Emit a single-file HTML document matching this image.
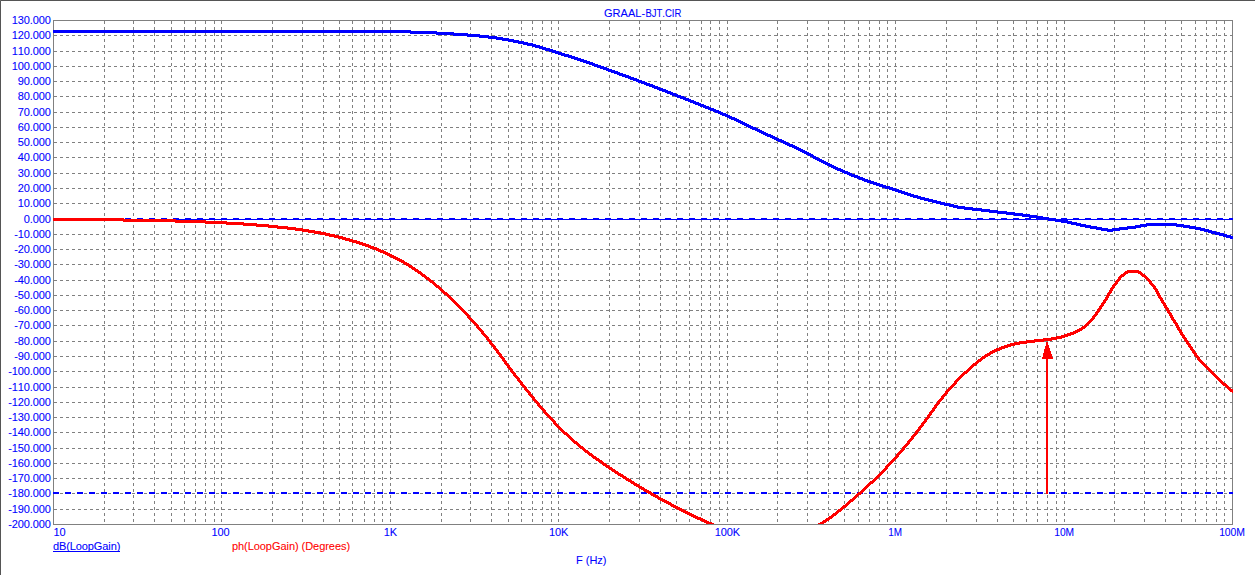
<!DOCTYPE html>
<html><head><meta charset="utf-8"><title>GRAAL-BJT.CIR</title>
<style>
html,body{margin:0;padding:0;background:#fff;}
body{width:1255px;height:575px;overflow:hidden;position:relative;font-family:"Liberation Sans",sans-serif;}
svg{position:absolute;left:0;top:0;display:block;}
text{font-family:"Liberation Sans",sans-serif;font-size:11px;font-kerning:none;}
.n{letter-spacing:-0.11px;}
</style></head><body>
<svg width="1255" height="575" viewBox="0 0 1255 575">
<rect x="0" y="0" width="1255" height="575" fill="#ffffff"/>
<g shape-rendering="crispEdges">
<rect x="0" y="0" width="1255" height="1" fill="#555555"/>
<rect x="0" y="0" width="1" height="575" fill="#555555"/>
<rect x="0" y="0" width="1" height="1" fill="#6a6a6a"/>
</g>
<g shape-rendering="crispEdges" stroke="#808080" stroke-width="1" stroke-dasharray="3 3" fill="none">
<path d="M54 35.5 H1232 M54 51.5 H1232 M54 66.5 H1232 M54 81.5 H1232 M54 96.5 H1232 M54 112.5 H1232 M54 127.5 H1232 M54 142.5 H1232 M54 157.5 H1232 M54 173.5 H1232 M54 188.5 H1232 M54 203.5 H1232 M54 219.5 H1232 M54 234.5 H1232 M54 249.5 H1232 M54 264.5 H1232 M54 280.5 H1232 M54 295.5 H1232 M54 310.5 H1232 M54 325.5 H1232 M54 341.5 H1232 M54 356.5 H1232 M54 371.5 H1232 M54 387.5 H1232 M54 402.5 H1232 M54 417.5 H1232 M54 432.5 H1232 M54 448.5 H1232 M54 463.5 H1232 M54 478.5 H1232 M54 493.5 H1232 M54 509.5 H1232"/>
<path d="M104.5 21 V524 M133.5 21 V524 M154.5 21 V524 M171.5 21 V524 M184.5 21 V524 M195.5 21 V524 M205.5 21 V524 M214.5 21 V524 M221.5 21 V524 M272.5 21 V524 M302.5 21 V524 M323.5 21 V524 M339.5 21 V524 M352.5 21 V524 M364.5 21 V524 M374.5 21 V524 M382.5 21 V524 M390.5 21 V524 M441.5 21 V524 M470.5 21 V524 M491.5 21 V524 M508.5 21 V524 M521.5 21 V524 M532.5 21 V524 M542.5 21 V524 M551.5 21 V524 M558.5 21 V524 M609.5 21 V524 M639.5 21 V524 M660.5 21 V524 M676.5 21 V524 M689.5 21 V524 M701.5 21 V524 M710.5 21 V524 M719.5 21 V524 M727.5 21 V524 M777.5 21 V524 M807.5 21 V524 M828.5 21 V524 M844.5 21 V524 M858.5 21 V524 M869.5 21 V524 M879.5 21 V524 M887.5 21 V524 M895.5 21 V524 M946.5 21 V524 M976.5 21 V524 M997.5 21 V524 M1013.5 21 V524 M1026.5 21 V524 M1037.5 21 V524 M1047.5 21 V524 M1056.5 21 V524 M1064.5 21 V524 M1114.5 21 V524 M1144.5 21 V524 M1165.5 21 V524 M1181.5 21 V524 M1195.5 21 V524 M1206.5 21 V524 M1216.5 21 V524 M1224.5 21 V524"/>
</g>
<g shape-rendering="crispEdges" fill="#808080">
<rect x="53" y="20" width="1180" height="1"/>
<rect x="53" y="524" width="1180" height="1"/>
<rect x="53" y="20" width="1" height="505"/>
<rect x="1232" y="20" width="1" height="505"/>
</g>
<g shape-rendering="crispEdges" stroke="#0000ff" fill="none">
<path d="M53 219.5 H1233" stroke-width="1"/>
<path d="M53 219 H1233" stroke-width="2" stroke-dasharray="6 6"/>
<path d="M53 493 H1233" stroke-width="2" stroke-dasharray="6 6"/>
</g>
<g shape-rendering="crispEdges" fill="none" stroke-width="1">
<path stroke="#0000ff" d="M53 30.5h358M53 31.5h384M53 32.5h401M410 33.5h58M436 34.5h44M453 35.5h36M467 36.5h30M479 37.5h24M488 38.5h21M496 39.5h18M502 40.5h17M508 41.5h16M513 42.5h15M518 43.5h15M523 44.5h13M527 45.5h13M532 46.5h11M535 47.5h11M539 48.5h11M542 49.5h11M545 50.5h11M549 51.5h10M552 52.5h10M555 53.5h10M558 54.5h11M561 55.5h11M564 56.5h11M568 57.5h10M571 58.5h10M574 59.5h10M577 60.5h10M580 61.5h10M583 62.5h10M586 63.5h9M589 64.5h9M592 65.5h9M594 66.5h10M597 67.5h10M600 68.5h9M603 69.5h9M606 70.5h9M608 71.5h10M611 72.5h9M614 73.5h9M617 74.5h9M619 75.5h10M622 76.5h9M625 77.5h9M628 78.5h9M630 79.5h9M633 80.5h9M636 81.5h9M638 82.5h9M641 83.5h9M644 84.5h9M646 85.5h9M649 86.5h9M652 87.5h8M654 88.5h9M657 89.5h9M659 90.5h9M662 91.5h9M665 92.5h8M667 93.5h9M670 94.5h8M672 95.5h9M675 96.5h9M677 97.5h9M680 98.5h9M683 99.5h8M685 100.5h9M688 101.5h8M690 102.5h9M693 103.5h8M695 104.5h9M698 105.5h8M700 106.5h9M703 107.5h8M705 108.5h9M708 109.5h8M710 110.5h9M713 111.5h8M715 112.5h8M718 113.5h8M720 114.5h8M722 115.5h8M725 116.5h7M727 117.5h8M729 118.5h8M731 119.5h8M734 120.5h7M736 121.5h7M738 122.5h7M740 123.5h7M742 124.5h7M744 125.5h7M746 126.5h7M748 127.5h8M750 128.5h8M752 129.5h8M755 130.5h7M757 131.5h7M759 132.5h7M761 133.5h7M763 134.5h8M765 135.5h8M767 136.5h8M770 137.5h7M772 138.5h7M774 139.5h8M776 140.5h8M778 141.5h8M781 142.5h7M783 143.5h7M785 144.5h8M787 145.5h8M789 146.5h8M792 147.5h7M794 148.5h7M796 149.5h7M798 150.5h7M800 151.5h7M802 152.5h7M804 153.5h7M806 154.5h7M808 155.5h6M810 156.5h6M812 157.5h6M813 158.5h7M815 159.5h7M817 160.5h7M819 161.5h7M821 162.5h7M823 163.5h7M825 164.5h7M827 165.5h7M829 166.5h7M831 167.5h7M833 168.5h8M835 169.5h8M837 170.5h8M840 171.5h8M842 172.5h8M844 173.5h8M847 174.5h8M849 175.5h9M851 176.5h9M854 177.5h9M857 178.5h8M859 179.5h9M862 180.5h9M864 181.5h10M867 182.5h10M870 183.5h10M873 184.5h10M876 185.5h10M879 186.5h11M882 187.5h11M885 188.5h11M889 189.5h10M892 190.5h10M895 191.5h10M898 192.5h10M901 193.5h10M904 194.5h10M907 195.5h11M910 196.5h11M913 197.5h12M917 198.5h12M920 199.5h13M924 200.5h13M928 201.5h13M932 202.5h13M936 203.5h14M940 204.5h14M944 205.5h14M949 206.5h16M953 207.5h20M957 208.5h25M964 209.5h26M972 210.5h26M981 211.5h26M989 212.5h26M997 213.5h26M1006 214.5h24M1014 215.5h23M1022 216.5h21M1029 217.5h20M1036 218.5h20M1042 219.5h20M1048 220.5h20M1055 221.5h17M1061 222.5h16M1067 223.5h14M1146 223.5h31M1071 224.5h15M1140 224.5h44M1076 225.5h15M1135 225.5h55M1080 226.5h17M1127 226.5h20M1176 226.5h20M1085 227.5h17M1119 227.5h22M1183 227.5h18M1090 228.5h18M1112 228.5h24M1189 228.5h16M1096 229.5h32M1195 229.5h14M1101 230.5h19M1200 230.5h12M1107 231.5h6M1204 231.5h12M1208 232.5h12M1211 233.5h13M1215 234.5h12M1219 235.5h12M1223 236.5h10M1226 237.5h7M1230 238.5h3"/>
<path stroke="#ff0000" d="M53 218.5h71M53 219.5h123M53 220.5h153M123 221.5h104M175 222.5h69M205 223.5h52M226 224.5h43M243 225.5h35M256 226.5h32M268 227.5h28M277 228.5h26M287 229.5h22M295 230.5h20M302 231.5h19M308 232.5h18M314 233.5h16M320 234.5h15M325 235.5h14M329 236.5h14M334 237.5h12M338 238.5h12M342 239.5h11M345 240.5h12M349 241.5h11M352 242.5h11M356 243.5h10M359 244.5h10M362 245.5h9M365 246.5h9M368 247.5h9M370 248.5h9M373 249.5h8M376 250.5h8M378 251.5h8M380 252.5h8M383 253.5h7M385 254.5h7M387 255.5h7M389 256.5h7M391 257.5h7M393 258.5h7M395 259.5h7M397 260.5h7M399 261.5h6M401 262.5h6M403 263.5h6M404 264.5h6M406 265.5h6M408 266.5h5M409 267.5h6M411 268.5h5M412 269.5h6M414 270.5h5M1127 270.5h12M415 271.5h6M1125 271.5h16M417 272.5h5M1124 272.5h18M418 273.5h5M1123 273.5h5M1138 273.5h5M420 274.5h5M1121 274.5h5M1140 274.5h5M421 275.5h5M1120 275.5h5M1141 275.5h5M422 276.5h5M1119 276.5h5M1142 276.5h5M424 277.5h5M1118 277.5h4M1144 277.5h4M425 278.5h5M1118 278.5h3M1145 278.5h4M426 279.5h5M1117 279.5h4M1146 279.5h4M428 280.5h5M1116 280.5h4M1147 280.5h4M429 281.5h5M1115 281.5h4M1148 281.5h4M430 282.5h5M1115 282.5h3M1149 282.5h3M432 283.5h4M1114 283.5h4M1149 283.5h4M433 284.5h4M1113 284.5h4M1150 284.5h4M434 285.5h5M1112 285.5h4M1151 285.5h4M435 286.5h5M1112 286.5h3M1152 286.5h4M436 287.5h5M1111 287.5h4M1153 287.5h3M438 288.5h4M1110 288.5h4M1153 288.5h4M439 289.5h4M1110 289.5h3M1154 289.5h4M440 290.5h4M1109 290.5h4M1155 290.5h3M441 291.5h4M1109 291.5h3M1155 291.5h4M442 292.5h5M1108 292.5h4M1156 292.5h3M443 293.5h5M1107 293.5h4M1156 293.5h4M444 294.5h5M1107 294.5h3M1157 294.5h3M446 295.5h4M1106 295.5h4M1157 295.5h4M447 296.5h4M1106 296.5h3M1158 296.5h3M448 297.5h4M1105 297.5h4M1158 297.5h4M449 298.5h4M1105 298.5h3M1159 298.5h4M450 299.5h4M1104 299.5h4M1160 299.5h3M451 300.5h4M1103 300.5h4M1160 300.5h4M452 301.5h4M1103 301.5h3M1161 301.5h3M453 302.5h4M1102 302.5h4M1161 302.5h4M454 303.5h4M1101 303.5h4M1162 303.5h4M455 304.5h4M1101 304.5h3M1163 304.5h3M456 305.5h4M1100 305.5h4M1163 305.5h4M457 306.5h4M1099 306.5h4M1164 306.5h3M458 307.5h4M1099 307.5h3M1164 307.5h4M459 308.5h4M1098 308.5h4M1165 308.5h4M460 309.5h4M1097 309.5h4M1166 309.5h3M461 310.5h4M1097 310.5h3M1166 310.5h4M462 311.5h4M1096 311.5h4M1167 311.5h3M463 312.5h4M1095 312.5h4M1167 312.5h4M464 313.5h4M1095 313.5h3M1168 313.5h4M465 314.5h4M1094 314.5h4M1169 314.5h3M466 315.5h4M1093 315.5h4M1169 315.5h4M467 316.5h3M1092 316.5h4M1170 316.5h3M467 317.5h4M1092 317.5h3M1170 317.5h4M468 318.5h4M1091 318.5h4M1171 318.5h3M469 319.5h4M1090 319.5h4M1171 319.5h4M470 320.5h4M1089 320.5h4M1172 320.5h4M471 321.5h4M1088 321.5h4M1173 321.5h3M472 322.5h4M1087 322.5h4M1173 322.5h4M473 323.5h4M1086 323.5h4M1174 323.5h4M474 324.5h4M1085 324.5h4M1175 324.5h3M475 325.5h4M1084 325.5h4M1175 325.5h4M476 326.5h3M1082 326.5h5M1176 326.5h3M476 327.5h4M1081 327.5h5M1176 327.5h4M477 328.5h4M1079 328.5h6M1177 328.5h3M478 329.5h4M1077 329.5h6M1177 329.5h4M479 330.5h4M1075 330.5h7M1178 330.5h4M480 331.5h4M1073 331.5h7M1179 331.5h3M481 332.5h3M1070 332.5h8M1179 332.5h4M481 333.5h4M1067 333.5h9M1180 333.5h3M482 334.5h4M1064 334.5h10M1180 334.5h4M483 335.5h4M1061 335.5h10M1181 335.5h4M484 336.5h4M1056 336.5h12M1182 336.5h3M485 337.5h4M1051 337.5h14M1182 337.5h4M486 338.5h3M1043 338.5h19M1183 338.5h4M486 339.5h4M1034 339.5h23M1184 339.5h3M487 340.5h4M1026 340.5h26M1184 340.5h4M488 341.5h4M1019 341.5h25M1185 341.5h4M489 342.5h3M1014 342.5h21M1186 342.5h3M489 343.5h4M1010 343.5h17M1186 343.5h4M490 344.5h4M1007 344.5h13M1187 344.5h4M491 345.5h4M1004 345.5h11M1188 345.5h3M492 346.5h4M1001 346.5h10M1188 346.5h4M493 347.5h3M999 347.5h9M1189 347.5h4M493 348.5h4M996 348.5h9M1190 348.5h3M494 349.5h4M994 349.5h8M1190 349.5h4M495 350.5h4M992 350.5h8M1191 350.5h4M496 351.5h3M990 351.5h7M1192 351.5h3M496 352.5h4M989 352.5h6M1192 352.5h4M497 353.5h4M987 353.5h6M1193 353.5h4M498 354.5h4M985 354.5h6M1194 354.5h3M499 355.5h3M984 355.5h6M1194 355.5h4M499 356.5h4M982 356.5h6M1195 356.5h4M500 357.5h4M981 357.5h5M1196 357.5h4M501 358.5h4M980 358.5h5M1197 358.5h3M502 359.5h3M978 359.5h5M1197 359.5h4M502 360.5h4M977 360.5h5M1198 360.5h4M503 361.5h4M976 361.5h5M1199 361.5h4M504 362.5h3M975 362.5h4M1200 362.5h4M504 363.5h4M973 363.5h5M1201 363.5h4M505 364.5h4M972 364.5h5M1202 364.5h4M506 365.5h4M971 365.5h5M1203 365.5h4M507 366.5h3M970 366.5h4M1204 366.5h4M507 367.5h4M969 367.5h4M1205 367.5h4M508 368.5h4M968 368.5h4M1206 368.5h4M509 369.5h4M967 369.5h4M1207 369.5h4M510 370.5h3M966 370.5h4M1208 370.5h4M510 371.5h4M964 371.5h5M1209 371.5h4M511 372.5h4M963 372.5h5M1210 372.5h4M512 373.5h4M962 373.5h5M1211 373.5h4M513 374.5h3M961 374.5h4M1212 374.5h4M513 375.5h4M960 375.5h4M1213 375.5h4M514 376.5h4M959 376.5h4M1214 376.5h4M515 377.5h4M958 377.5h4M1215 377.5h4M516 378.5h4M957 378.5h4M1216 378.5h4M517 379.5h3M956 379.5h4M1217 379.5h4M517 380.5h4M955 380.5h4M1218 380.5h4M518 381.5h4M954 381.5h4M1219 381.5h4M519 382.5h4M954 382.5h3M1220 382.5h4M520 383.5h3M953 383.5h4M1221 383.5h5M520 384.5h4M952 384.5h4M1222 384.5h5M521 385.5h4M951 385.5h4M1223 385.5h5M522 386.5h4M950 386.5h4M1225 386.5h4M523 387.5h4M949 387.5h4M1226 387.5h4M524 388.5h3M948 388.5h4M1227 388.5h4M524 389.5h4M947 389.5h4M1228 389.5h5M525 390.5h4M946 390.5h4M1229 390.5h4M526 391.5h4M945 391.5h4M1230 391.5h3M527 392.5h4M945 392.5h3M1232 392.5h1M528 393.5h3M944 393.5h4M528 394.5h4M943 394.5h4M529 395.5h4M942 395.5h4M530 396.5h4M941 396.5h4M531 397.5h4M941 397.5h3M532 398.5h3M940 398.5h4M532 399.5h4M939 399.5h4M533 400.5h4M938 400.5h4M534 401.5h4M937 401.5h4M535 402.5h4M937 402.5h3M536 403.5h4M936 403.5h4M537 404.5h3M935 404.5h4M537 405.5h4M934 405.5h4M538 406.5h4M934 406.5h3M539 407.5h4M933 407.5h4M540 408.5h4M932 408.5h4M541 409.5h4M932 409.5h3M542 410.5h4M931 410.5h4M543 411.5h3M930 411.5h4M543 412.5h4M929 412.5h4M544 413.5h4M929 413.5h3M545 414.5h4M928 414.5h4M546 415.5h4M927 415.5h4M547 416.5h4M927 416.5h3M548 417.5h4M926 417.5h4M549 418.5h4M925 418.5h4M550 419.5h4M924 419.5h4M551 420.5h4M924 420.5h3M552 421.5h4M923 421.5h4M553 422.5h3M922 422.5h4M553 423.5h4M921 423.5h4M554 424.5h4M921 424.5h3M555 425.5h4M920 425.5h4M556 426.5h4M919 426.5h4M557 427.5h4M918 427.5h4M558 428.5h4M918 428.5h3M559 429.5h4M917 429.5h4M560 430.5h4M916 430.5h4M561 431.5h4M915 431.5h4M562 432.5h5M915 432.5h3M563 433.5h5M914 433.5h4M564 434.5h5M913 434.5h4M566 435.5h4M912 435.5h4M567 436.5h4M911 436.5h4M568 437.5h4M911 437.5h3M569 438.5h4M910 438.5h4M570 439.5h4M909 439.5h4M571 440.5h4M908 440.5h4M572 441.5h5M907 441.5h4M573 442.5h5M907 442.5h3M574 443.5h5M906 443.5h4M576 444.5h4M905 444.5h4M577 445.5h4M904 445.5h4M578 446.5h5M903 446.5h4M579 447.5h5M902 447.5h4M580 448.5h5M902 448.5h3M582 449.5h4M901 449.5h4M583 450.5h5M900 450.5h4M584 451.5h5M899 451.5h4M585 452.5h5M898 452.5h4M587 453.5h5M897 453.5h4M588 454.5h5M896 454.5h4M589 455.5h5M896 455.5h3M591 456.5h5M895 456.5h4M592 457.5h5M894 457.5h4M593 458.5h6M893 458.5h4M595 459.5h5M892 459.5h4M596 460.5h6M891 460.5h4M598 461.5h5M890 461.5h4M599 462.5h5M889 462.5h4M601 463.5h5M888 463.5h4M602 464.5h5M887 464.5h4M603 465.5h6M886 465.5h4M605 466.5h5M885 466.5h4M606 467.5h6M885 467.5h3M608 468.5h5M884 468.5h4M609 469.5h6M883 469.5h4M611 470.5h5M882 470.5h4M612 471.5h6M881 471.5h4M614 472.5h5M880 472.5h4M615 473.5h6M879 473.5h4M617 474.5h6M878 474.5h4M618 475.5h6M877 475.5h4M620 476.5h6M876 476.5h4M622 477.5h5M875 477.5h4M623 478.5h6M874 478.5h4M625 479.5h6M873 479.5h4M626 480.5h6M872 480.5h4M628 481.5h6M870 481.5h5M630 482.5h5M869 482.5h5M631 483.5h6M868 483.5h5M633 484.5h6M867 484.5h4M634 485.5h6M866 485.5h4M636 486.5h6M865 486.5h4M638 487.5h6M864 487.5h4M639 488.5h6M863 488.5h4M641 489.5h6M862 489.5h4M643 490.5h6M861 490.5h4M644 491.5h7M860 491.5h4M646 492.5h6M858 492.5h5M648 493.5h6M857 493.5h5M650 494.5h6M856 494.5h5M651 495.5h7M855 495.5h4M653 496.5h6M854 496.5h4M655 497.5h6M853 497.5h4M657 498.5h6M852 498.5h4M658 499.5h7M850 499.5h5M660 500.5h7M849 500.5h5M662 501.5h7M848 501.5h5M664 502.5h7M847 502.5h4M666 503.5h6M846 503.5h4M668 504.5h6M845 504.5h4M670 505.5h6M843 505.5h5M671 506.5h7M842 506.5h5M673 507.5h7M841 507.5h5M675 508.5h7M840 508.5h4M677 509.5h7M838 509.5h5M679 510.5h7M837 510.5h5M681 511.5h7M836 511.5h5M683 512.5h7M835 512.5h4M685 513.5h7M833 513.5h5M687 514.5h7M832 514.5h5M689 515.5h7M831 515.5h5M691 516.5h7M829 516.5h5M693 517.5h8M828 517.5h5M695 518.5h8M826 518.5h6M697 519.5h8M825 519.5h5M700 520.5h7M823 520.5h6M702 521.5h7M822 521.5h5M704 522.5h8M820 522.5h6M706 523.5h8M818 523.5h6"/>
</g>
<g shape-rendering="crispEdges" fill="#ff0000">
<rect x="1046" y="345" width="2" height="149"/>
<polygon points="1047,340 1042,359 1053,359"/>
</g>
<g fill="#0000ff" stroke="#0000ff" stroke-width="0.08">
<text x="603.9" y="17" textLength="41.2" lengthAdjust="spacing">GRAAL-</text>
<text x="645.4" y="17" textLength="36" lengthAdjust="spacingAndGlyphs">BJT.CIR</text>
<g class="n">
<text x="50.7" y="24" text-anchor="end">130.000</text>
<text x="50.7" y="39" text-anchor="end">120.000</text>
<text x="50.7" y="55" text-anchor="end">110.000</text>
<text x="50.7" y="70" text-anchor="end">100.000</text>
<text x="50.7" y="85" text-anchor="end">90.000</text>
<text x="50.7" y="100" text-anchor="end">80.000</text>
<text x="50.7" y="116" text-anchor="end">70.000</text>
<text x="50.7" y="131" text-anchor="end">60.000</text>
<text x="50.7" y="146" text-anchor="end">50.000</text>
<text x="50.7" y="161" text-anchor="end">40.000</text>
<text x="50.7" y="177" text-anchor="end">30.000</text>
<text x="50.7" y="192" text-anchor="end">20.000</text>
<text x="50.7" y="207" text-anchor="end">10.000</text>
<text x="50.7" y="223" text-anchor="end">0.000</text>
<text x="50.7" y="238" text-anchor="end">-10.000</text>
<text x="50.7" y="253" text-anchor="end">-20.000</text>
<text x="50.7" y="268" text-anchor="end">-30.000</text>
<text x="50.7" y="284" text-anchor="end">-40.000</text>
<text x="50.7" y="299" text-anchor="end">-50.000</text>
<text x="50.7" y="314" text-anchor="end">-60.000</text>
<text x="50.7" y="329" text-anchor="end">-70.000</text>
<text x="50.7" y="345" text-anchor="end">-80.000</text>
<text x="50.7" y="360" text-anchor="end">-90.000</text>
<text x="50.7" y="375" text-anchor="end">-100.000</text>
<text x="50.7" y="391" text-anchor="end">-110.000</text>
<text x="50.7" y="406" text-anchor="end">-120.000</text>
<text x="50.7" y="421" text-anchor="end">-130.000</text>
<text x="50.7" y="436" text-anchor="end">-140.000</text>
<text x="50.7" y="452" text-anchor="end">-150.000</text>
<text x="50.7" y="467" text-anchor="end">-160.000</text>
<text x="50.7" y="482" text-anchor="end">-170.000</text>
<text x="50.7" y="497" text-anchor="end">-180.000</text>
<text x="50.7" y="513" text-anchor="end">-190.000</text>
<text x="50.7" y="528" text-anchor="end">-200.000</text>
<text x="53.5" y="536">10</text>
<text x="211.4" y="536">100</text>
<text x="383.7" y="536">1K</text>
<text x="548.9" y="536">10K</text>
<text x="714.7" y="536">100K</text>
<text x="888.3" y="536" textLength="13.6" lengthAdjust="spacingAndGlyphs">1M</text>
<text x="1054.3" y="536" textLength="19.6" lengthAdjust="spacingAndGlyphs">10M</text>
<text x="1219.2" y="536" textLength="25.6" lengthAdjust="spacingAndGlyphs">100M</text>
</g>
<text x="53.1" y="549.5" textLength="67.2" lengthAdjust="spacing">dB(LoopGain)</text>
<rect x="53" y="551" width="67" height="1" stroke="none" shape-rendering="crispEdges"/>
<text x="576.1" y="564" textLength="30.3" lengthAdjust="spacing">F (Hz)</text>
</g>
<text x="231.9" y="549.5" textLength="118.2" lengthAdjust="spacing" fill="#ff0000" stroke="#ff0000" stroke-width="0.08">ph(LoopGain) (Degrees)</text>
</svg>
</body></html>
